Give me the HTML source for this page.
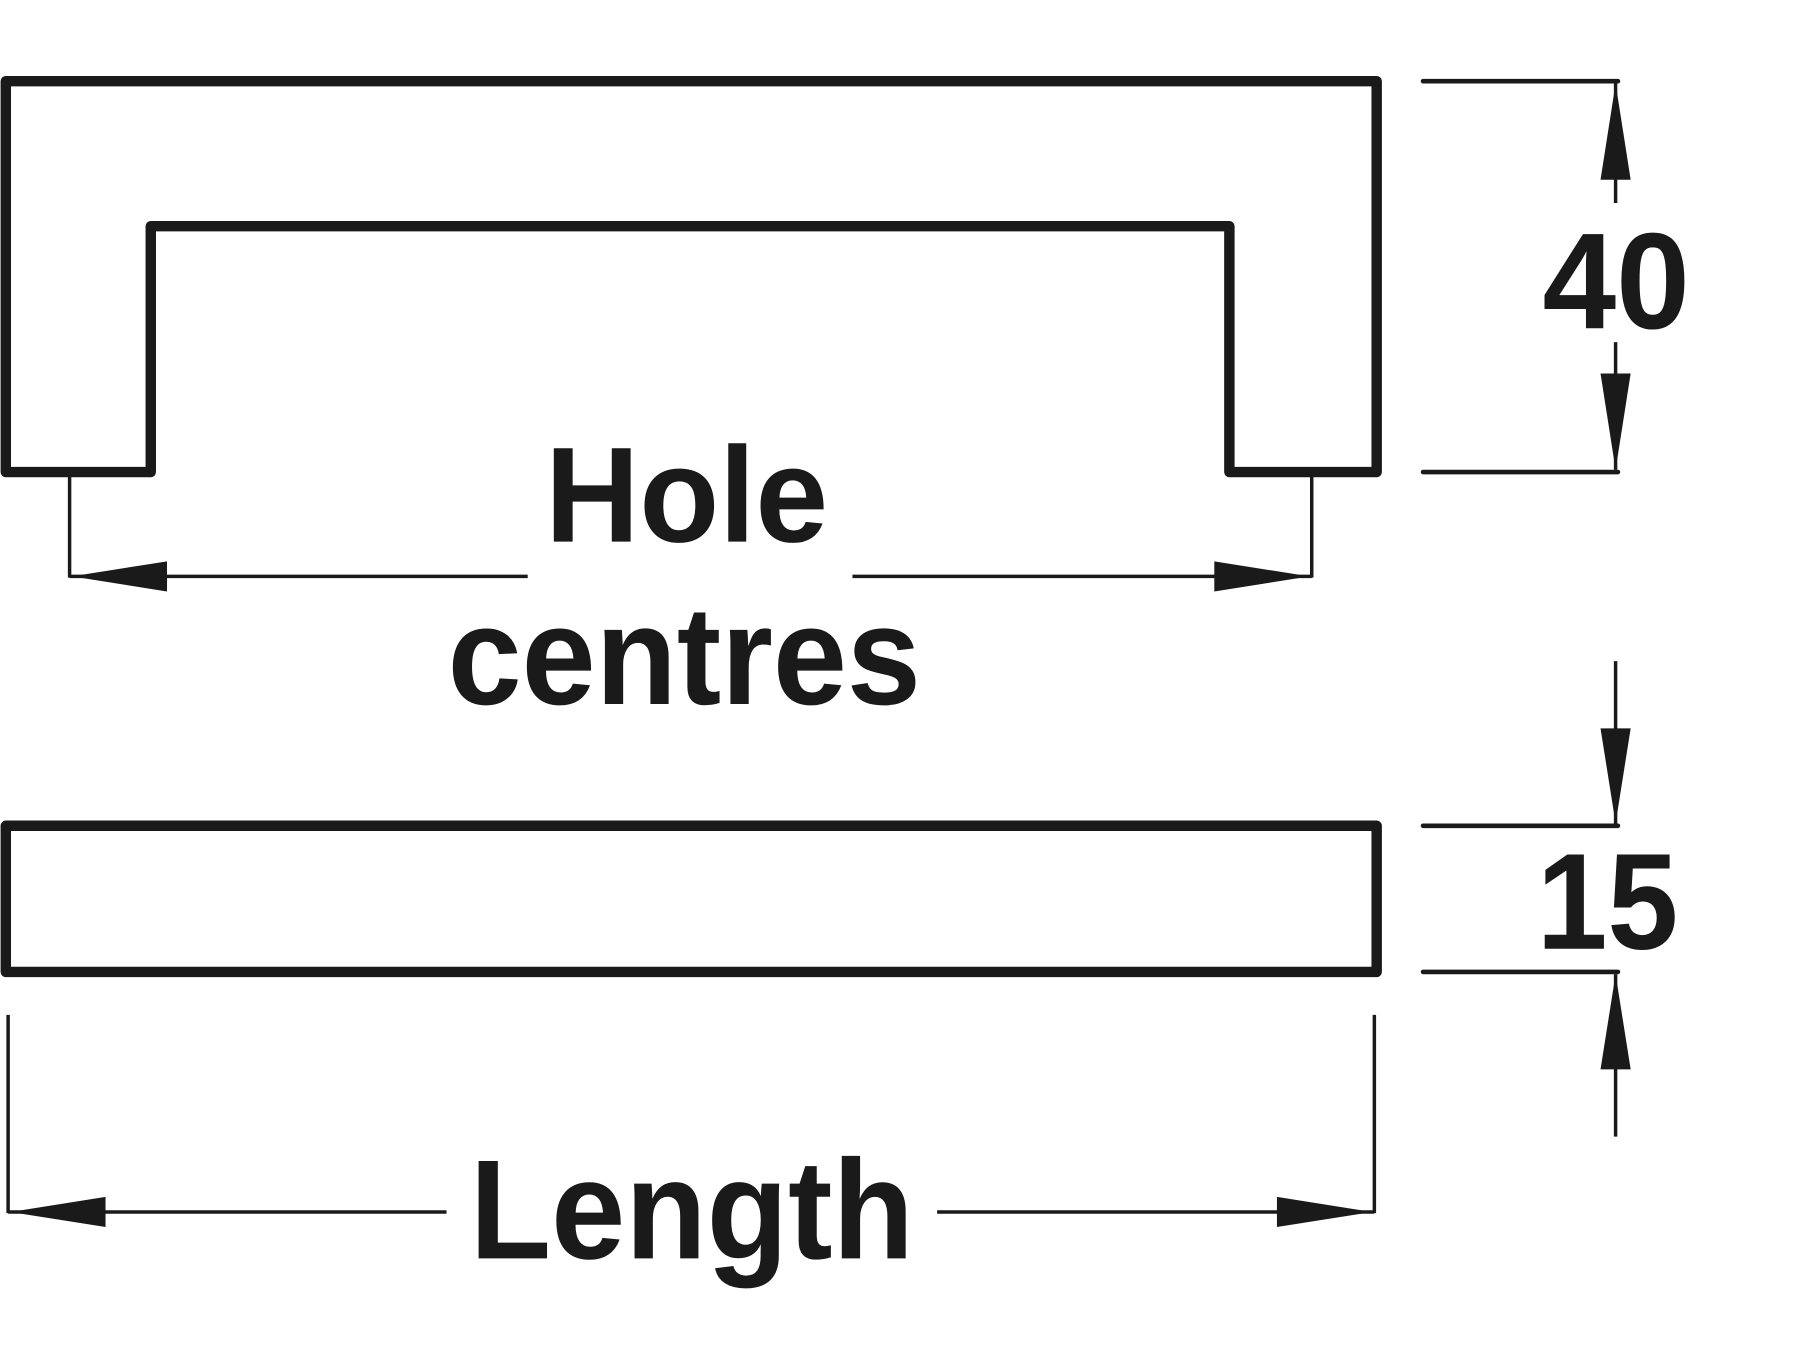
<!DOCTYPE html>
<html><head><meta charset="utf-8"><style>
html,body{margin:0;padding:0;background:#fff;}
svg{display:block;}
text{font-family:"Liberation Sans",Arial,sans-serif;font-weight:bold;fill:#1a1a1a;}
</style></head><body>
<svg width="1800" height="1350" viewBox="0 0 1552 1164" preserveAspectRatio="none" xmlns="http://www.w3.org/2000/svg">
<g fill="none" stroke="#1a1a1a" stroke-linejoin="round" stroke-linecap="round">
<path d="M5 407 L5 70 L1187 70 L1187 407 L1060 407 L1060 195 L130 195 L130 407 Z" stroke-width="9"/>
<rect x="5" y="712" width="1182" height="126" stroke-width="9"/>
<g stroke-width="4">
<line x1="1227" y1="70" x2="1395" y2="70"/>
<line x1="1227" y1="407" x2="1395" y2="407"/>
<line x1="1227" y1="712" x2="1395" y2="712"/>
<line x1="1227" y1="838" x2="1395" y2="838"/>
</g>
<g stroke-width="3" stroke-linecap="butt">
<line x1="60" y1="407" x2="60" y2="498"/>
<line x1="1131" y1="407" x2="1131" y2="498"/>
<line x1="60" y1="497" x2="455" y2="497"/>
<line x1="735" y1="497" x2="1131" y2="497"/>
<line x1="1393" y1="72" x2="1393" y2="175"/>
<line x1="1393" y1="295" x2="1393" y2="405"/>
<line x1="1393" y1="570" x2="1393" y2="710"/>
<line x1="1393" y1="840" x2="1393" y2="980"/>
<line x1="7" y1="875" x2="7" y2="1046"/>
<line x1="1185" y1="875" x2="1185" y2="1046"/>
<line x1="7" y1="1045" x2="385" y2="1045"/>
<line x1="808" y1="1045" x2="1185" y2="1045"/>
</g>
</g>
<g fill="#1a1a1a">
<polygon points="62,497 144,484 144,510"/>
<polygon points="1129,497 1047,484 1047,510"/>
<polygon points="9,1045 91,1032 91,1058"/>
<polygon points="1183,1045 1101,1032 1101,1058"/>
<polygon points="1393,72 1380,155 1406,155"/>
<polygon points="1393,405 1380,322 1406,322"/>
<polygon points="1393,710 1380,628 1406,628"/>
<polygon points="1393,840 1380,922 1406,922"/>
</g>
<text x="470" y="467" font-size="117" textLength="244" lengthAdjust="spacingAndGlyphs">Hole</text>
<text x="386" y="607" font-size="121" textLength="408" lengthAdjust="spacingAndGlyphs">centres</text>
<text x="405" y="1085" font-size="122" textLength="383" lengthAdjust="spacingAndGlyphs">Length</text>
<text x="1330" y="283" font-size="118" textLength="127" lengthAdjust="spacingAndGlyphs">40</text>
<text x="1325" y="818" font-size="118" textLength="122" lengthAdjust="spacingAndGlyphs">15</text>
</svg>
</body></html>
